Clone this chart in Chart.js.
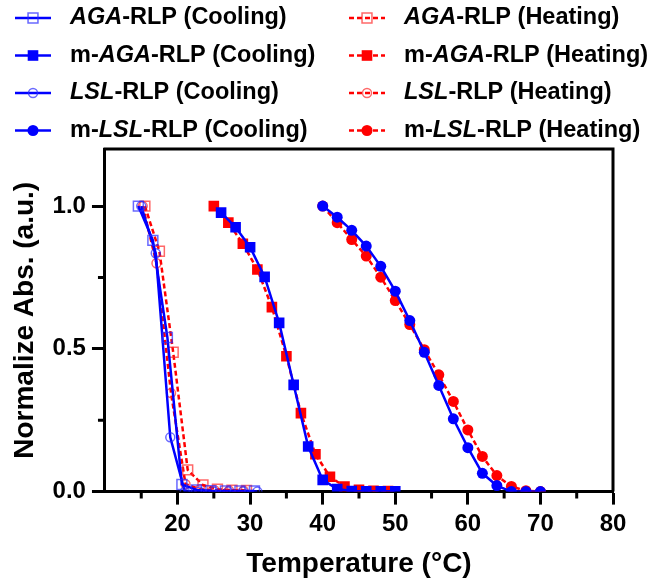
<!DOCTYPE html>
<html>
<head>
<meta charset="utf-8">
<script src="https://cdn.jsdelivr.net/npm/chart.js"></script>
<style>
  html, body { margin: 0; padding: 0; background: #fff; }
  canvas { display: block; }
</style>
</head>
<body>
<canvas id="turbidez" width="653" height="581"></canvas>
<script>
// temperaturas (°C) y absorbancia normalizada de cada muestra
const agaCoolT = [14.6, 16.6, 18.6, 20.6, 22.6, 24.6, 26.6, 28.6, 30.6];
const agaCoolAbs = [1.0, 0.88, 0.54, 0.025, 0.006, 0.003, 0.002, 0.002, 0.002];
const mAgaCoolT = [26, 28, 30, 32, 34, 36, 38, 40, 42, 44, 46, 48, 50];
const mAgaCoolAbs = [0.977, 0.926, 0.856, 0.752, 0.591, 0.374, 0.158, 0.041, 0.009, 0.002, 0.001, 0.001, 0.001];
const lslCoolT = [15, 17, 19, 21, 23, 25, 27, 29, 31];
const lslCoolAbs = [1.0, 0.835, 0.19, 0.0, 0.0, 0.0, 0.0, 0.0, 0.0];
const mLslCoolT = [40, 42, 44, 46, 48, 50, 52, 54, 56, 58, 60, 62, 64, 66, 68, 70];
const mLslCoolAbs = [1.0, 0.961, 0.915, 0.86, 0.789, 0.702, 0.599, 0.488, 0.372, 0.255, 0.154, 0.064, 0.021, 0.0, 0.0, 0.0];

const agaHeatT = [15.5, 17.5, 19.4, 21.4, 23.5, 25.5, 27.5, 29.5];
const agaHeatAbs = [1.0, 0.842, 0.488, 0.076, 0.023, 0.008, 0.005, 0.004];
const mAgaHeatT = [25, 27, 29, 31, 33, 35, 37, 39, 41, 43, 45, 47, 49];
const mAgaHeatAbs = [1.0, 0.942, 0.868, 0.778, 0.646, 0.474, 0.275, 0.131, 0.052, 0.018, 0.006, 0.003, 0.002];
const lslHeatT = [15.2, 17.1, 19.1, 21.1, 23.1, 25.1, 27.1, 29.1];
const lslHeatAbs = [1.0, 0.80, 0.345, 0.026, 0.008, 0.005, 0.004, 0.003];
const mLslHeatT = [40, 42, 44, 46, 48, 50, 52, 54, 56, 58, 60, 62, 64, 66, 68, 70];
const mLslHeatAbs = [1.0, 0.942, 0.883, 0.825, 0.751, 0.669, 0.585, 0.497, 0.409, 0.316, 0.216, 0.123, 0.056, 0.018, 0.003, 0.0];

const xMajor = [20, 30, 40, 50, 60, 70, 80];
const xMinor = [15, 25, 35, 45, 55, 65, 75];
const yMajor = [0, 0.5, 1.0];
const yMinor = [0.25, 0.75];

const FONT = "'Liberation Sans', Arial, sans-serif";
const blue = "#0000ff";
const red = "#ff0000";
const blueOpen = "rgba(40, 40, 255, 0.7)";
const redOpen = "rgba(255, 40, 40, 0.7)";

// cooling primero para que quede encima
const series = [
  { parts: [["AGA", true], ["-RLP (Cooling)", false]], xs: agaCoolT, ys: agaCoolAbs, color: blue, light: blueOpen, style: "rect", open: true, dashed: false },
  { parts: [["m-", false], ["AGA", true], ["-RLP (Cooling)", false]], xs: mAgaCoolT, ys: mAgaCoolAbs, color: blue, light: blue, style: "rect", open: false, dashed: false },
  { parts: [["LSL", true], ["-RLP (Cooling)", false]], xs: lslCoolT, ys: lslCoolAbs, color: blue, light: blueOpen, style: "circle", open: true, dashed: false },
  { parts: [["m-", false], ["LSL", true], ["-RLP (Cooling)", false]], xs: mLslCoolT, ys: mLslCoolAbs, color: blue, light: blue, style: "circle", open: false, dashed: false },
  { parts: [["AGA", true], ["-RLP (Heating)", false]], xs: agaHeatT, ys: agaHeatAbs, color: red, light: redOpen, style: "rect", open: true, dashed: true },
  { parts: [["m-", false], ["AGA", true], ["-RLP (Heating)", false]], xs: mAgaHeatT, ys: mAgaHeatAbs, color: red, light: red, style: "rect", open: false, dashed: true },
  { parts: [["LSL", true], ["-RLP (Heating)", false]], xs: lslHeatT, ys: lslHeatAbs, color: red, light: redOpen, style: "circle", open: true, dashed: true },
  { parts: [["m-", false], ["LSL", true], ["-RLP (Heating)", false]], xs: mLslHeatT, ys: mLslHeatAbs, color: red, light: red, style: "circle", open: false, dashed: true },
];

const radio = (s) => s.style === "rect" ? (s.open ? 7 : 7.5) : (s.open ? 4.5 : 5.5);
const toPoints = (xs, ys) => xs.map((x, i) => ({ x, y: ys[i] }));

const datasets = series.map((s) => ({
  data: toPoints(s.xs, s.ys),
  borderColor: s.color,
  borderWidth: 2.5,
  borderDash: s.dashed ? [5, 3] : [],
  pointStyle: s.style,
  pointRadius: radio(s),
  pointBorderWidth: s.open ? 1.5 : 0,
  pointBorderColor: s.light,
  pointBackgroundColor: s.open ? "rgba(0,0,0,0)" : s.color,
  fill: false,
  tension: 0,
}));

// marco superior/derecho y ticks menores
const marco = {
  id: "marco",
  beforeDatasetsDraw(chart) {
    const { ctx, chartArea: a, scales } = chart;
    ctx.save();
    ctx.strokeStyle = "#000";
    ctx.lineWidth = 3;
    ctx.lineJoin = "miter";
    ctx.beginPath();
    ctx.moveTo(a.left - 1.5, a.top);
    ctx.lineTo(a.right, a.top);
    ctx.lineTo(a.right, a.bottom);
    ctx.stroke();
    ctx.beginPath();
    xMinor.forEach((v) => {
      const px = scales.x.getPixelForValue(v);
      ctx.moveTo(px, a.bottom);
      ctx.lineTo(px, a.bottom + 7);
    });
    yMinor.forEach((v) => {
      const py = scales.y.getPixelForValue(v);
      ctx.moveTo(a.left, py);
      ctx.lineTo(a.left - 7, py);
    });
    ctx.stroke();
    ctx.restore();
  },
};

// leyenda en dos columnas con partes en cursiva
const leyenda = {
  id: "leyenda",
  afterDraw(chart) {
    const ctx = chart.ctx;
    series.forEach((s, i) => {
      const x0 = i < 4 ? 15 : 349;
      const y = 18 + (i % 4) * 37.5;
      ctx.save();
      ctx.strokeStyle = s.color;
      ctx.lineWidth = 2.5;
      ctx.setLineDash(s.dashed ? [5, 3] : []);
      ctx.beginPath();
      ctx.moveTo(x0, y);
      ctx.lineTo(x0 + 36, y);
      ctx.stroke();
      ctx.setLineDash([]);
      ctx.fillStyle = s.open ? "rgba(0,0,0,0)" : s.color;
      ctx.strokeStyle = s.light;
      ctx.lineWidth = 1.5;
      Chart.helpers.drawPoint(ctx, { pointStyle: s.style, radius: radio(s), borderWidth: s.open ? 1.5 : 0, rotation: 0 }, x0 + 18, y);
      let tx = x0 + 55;
      ctx.fillStyle = "#000";
      ctx.textBaseline = "middle";
      s.parts.forEach(([txt, it]) => {
        ctx.font = (it ? "italic " : "") + "bold 23.5px " + FONT;
        ctx.fillText(txt, tx, y);
        tx += ctx.measureText(txt).width;
      });
      ctx.restore();
    });
  },
};

Chart.defaults.font.family = FONT;
Chart.defaults.color = "#000";

new Chart("turbidez", {
  type: "line",
  data: { datasets },
  options: {
    responsive: false,
    animation: false,
    layout: { padding: { top: 149, right: 40, bottom: 0, left: 8 } },
    plugins: { legend: { display: false }, tooltip: { enabled: false } },
    scales: {
      x: {
        type: "linear",
        min: 10,
        max: 80,
        afterBuildTicks: (scale) => { scale.ticks = xMajor.map((value) => ({ value })); },
        ticks: { font: { size: 24, weight: "bold" }, color: "#000", padding: 5, maxRotation: 0, autoSkip: false },
        grid: { drawOnChartArea: false, drawTicks: true, tickLength: 13, tickWidth: 3, tickColor: "#000" },
        border: { display: true, width: 3, color: "#000" },
        title: { display: true, text: "Temperature (°C)", font: { size: 28, weight: "bold" }, color: "#000", padding: { top: 4, bottom: 0 } },
      },
      y: {
        min: 0,
        max: 1.2,
        afterBuildTicks: (scale) => { scale.ticks = yMajor.map((value) => ({ value })); },
        ticks: { font: { size: 24, weight: "bold" }, color: "#000", padding: 6, callback: (v) => Number(v).toFixed(1) },
        grid: { drawOnChartArea: false, drawTicks: true, tickLength: 13, tickWidth: 3, tickColor: "#000" },
        border: { display: true, width: 3, color: "#000" },
        title: { display: true, text: "Normalize Abs. (a.u.)", font: { size: 28, weight: "bold" }, color: "#000", padding: { top: 0, bottom: 5 } },
      },
    },
  },
  plugins: [marco, leyenda],
});
</script>
</body>
</html>
